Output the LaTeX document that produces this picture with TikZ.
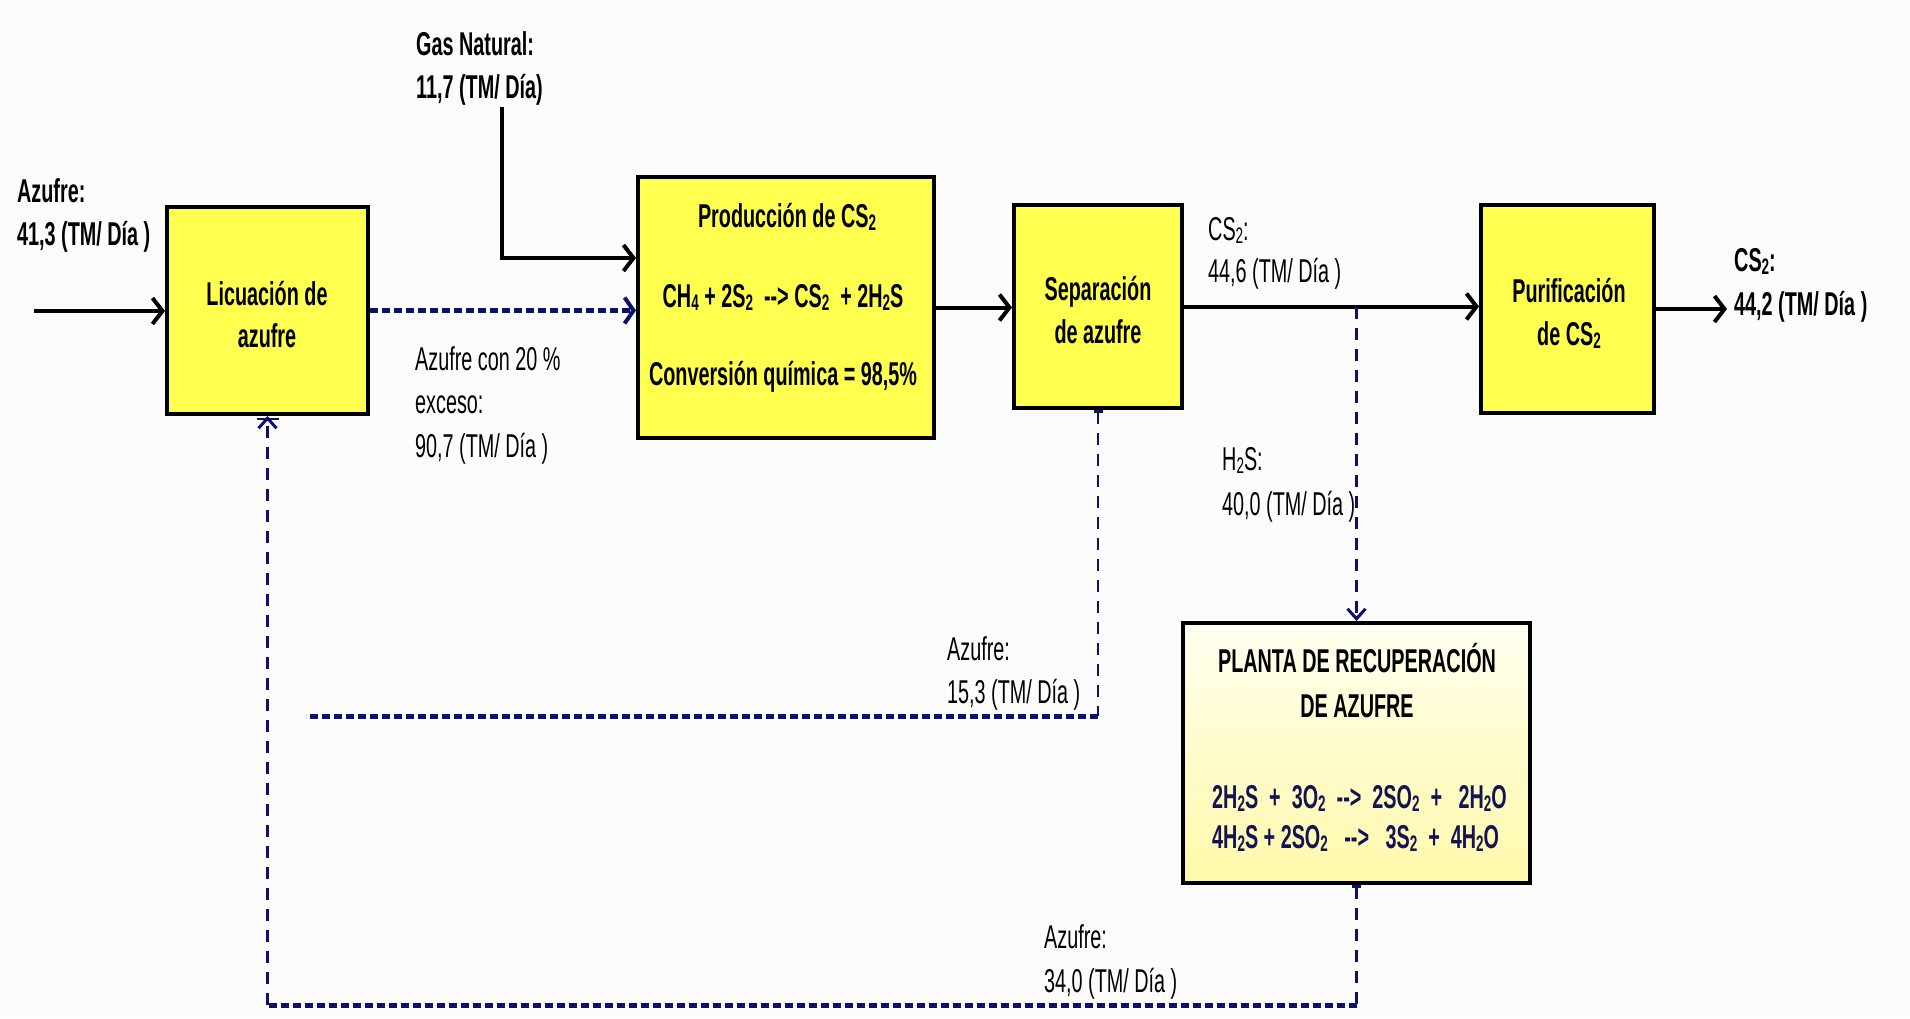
\documentclass[tikz,border=0pt]{standalone}
\usepackage{fontspec}
\setmainfont{Liberation Sans}[FakeStretch=0.6]
\usepackage{graphicx}
\usetikzlibrary{arrows.meta}
\definecolor{boxyel}{RGB}{255,255,80}
\definecolor{navyb}{RGB}{15,15,110}
\definecolor{eqnavy}{RGB}{20,20,85}
\definecolor{bgc}{RGB}{252,252,252}
\newcommand\sbs[1]{\raisebox{-0.1em}{\scalebox{0.68}{#1}}}
\begin{document}
\begin{tikzpicture}[x=1pt,y=-1pt,
  box/.style={draw=black, line width=4pt, fill=boxyel, inner sep=0pt},
  pbox/.style={draw=black, line width=4pt, inner sep=0pt, top color=white!94!yellow, bottom color=white!70!yellow!95!orange},
  txt/.style={inner sep=0pt, font=\fontsize{33}{40}\selectfont},
  btxt/.style={inner sep=0pt, font=\fontsize{33}{40}\selectfont\bfseries},
  lt/.style={txt, anchor=base west},
  blt/.style={btxt, anchor=base west},
  bct/.style={btxt, anchor=base},
  blk/.style={draw=black, line width=4pt, -{Straight Barb[length=10pt,width=26pt,line width=4pt]}},
  dotb/.style={draw=navyb, line width=5pt, dash pattern=on 8pt off 4pt},
  dotbarrow/.style={dotb, -{Straight Barb[length=9pt,width=26pt,line width=4pt]}},
  dashv/.style={draw=navyb, line width=2.5pt, dash pattern=on 12pt off 9pt},
  dashvarrow/.style={dashv, -{Straight Barb[length=10pt,width=18pt,line width=3pt]}},
  barstart/.style={{Bar[width=9pt,line width=2.5pt]}-}
]
\useasboundingbox (0,0) rectangle (1910,1018);
\fill[bgc] (0,0) rectangle (1910,1018);

% boxes
\node[box, minimum width=201pt, minimum height=207pt] (lic) at (267.5,310.5) {};
\node[box, minimum width=296pt, minimum height=261pt] (prod) at (786,307.5) {};
\node[box, minimum width=168pt, minimum height=203pt] (sep) at (1098,306.5) {};
\node[box, minimum width=173pt, minimum height=208pt] (pur) at (1567.5,309) {};
\node[pbox, minimum width=347pt, minimum height=260pt] (planta) at (1356.5,753) {};

% box texts
\node[bct] (lict1) at (267,305) {Licuación de};
\node[bct] (lict2) at (267,347) {azufre};
\node[bct] (prodt1) at (787,227) {Producción de CS\sbs{2}};
\node[bct] (prodt2) at (783,307) {CH\sbs{4} + 2S\sbs{2} \,-{}-> CS\sbs{2} \,+ 2H\sbs{2}S};
\node[bct] (prodt3) at (783,385) {Conversión química = 98,5\%};
\node[bct] (sept1) at (1098,300) {Separación};
\node[bct] (sept2) at (1098,343) {de azufre};
\node[bct] (purt1) at (1569,302) {Purificación};
\node[bct] (purt2) at (1569,345) {de CS\sbs{2}};
\node[bct] (plt1) at (1357,672) {PLANTA DE RECUPERACIÓN};
\node[bct] (plt2) at (1357,717) {DE AZUFRE};
\node[blt, text=eqnavy] (pleq1) at (1212,808) {2H\sbs{2}S \ + \ 3O\sbs{2} \ -{}-> \ 2SO\sbs{2} \ + \ \ 2H\sbs{2}O};
\node[blt, text=eqnavy] (pleq2) at (1212,848) {4H\sbs{2}S + 2SO\sbs{2} \ \ -{}-> \ \ 3S\sbs{2} \,+ \,4H\sbs{2}O};

% labels
\node[blt] (azin1) at (17,202) {Azufre:};
\node[blt] (azin2) at (17,245) {41,3 (TM/ Día )};
\node[blt] (gas1) at (416,55) {Gas Natural:};
\node[blt] (gas2) at (416,98) {11,7 (TM/ Día)};
\node[lt] (exc1) at (415,370) {Azufre con 20 \%};
\node[lt] (exc2) at (415,413) {exceso:};
\node[lt] (exc3) at (415,457) {90,7 (TM/ Día )};
\node[lt] (cs1) at (1208,240) {CS\sbs{2}:};
\node[lt] (cs2) at (1208,282) {44,6 (TM/ Día )};
\node[blt] (out1) at (1734,271) {CS\sbs{2}:};
\node[blt] (out2) at (1734,315) {44,2 (TM/ Día )};
\node[lt] (hs1) at (1222,470) {H\sbs{2}S:};
\node[lt] (hs2) at (1222,515) {40,0 (TM/ Día )};
\node[lt] (az15a) at (947,660) {Azufre:};
\node[lt] (az15b) at (947,703) {15,3 (TM/ Día )};
\node[lt] (az34a) at (1044,948) {Azufre:};
\node[lt] (az34b) at (1044,992) {34,0 (TM/ Día )};

% connectors
\coordinate (inS) at (34,311);
\draw[blk] (inS) -- (inS -| lic.west);
\coordinate (gasT) at (502,107);
\coordinate (gasC) at (502,258);
\draw[blk] (gasT) -- (gasC) -- (gasC -| prod.west);
\draw[dotbarrow] (lic.east) -- (lic.east -| prod.west);
\draw[blk] (prod.east) -- (prod.east -| sep.west);
\draw[blk] (sep.east) -- (sep.east -| pur.west);
\coordinate (outE) at (1727,309);
\draw[blk] (pur.east) -- (outE);
\draw[dashvarrow] (planta.north |- sep.east) -- (planta.north);
\coordinate (sepC) at (1098,716);
\coordinate (sepL) at (306,716);
\draw[dashv, barstart] (sep.south) -- (sepC);
\draw[dotb] (sepC) -- (sepL);
\coordinate (plC) at (1356.5,1005);
\coordinate (licC) at (267.5,1005);
\draw[dashv, barstart] (planta.south) -- (plC);
\draw[dotb] (plC) -- (licC);
\draw[dashvarrow] (licC) -- (lic.south);
\draw[navyb, line width=2.5pt] ([xshift=-11pt,yshift=-3pt]lic.south) -- ([xshift=11pt,yshift=-3pt]lic.south);
\end{tikzpicture}
\end{document}
